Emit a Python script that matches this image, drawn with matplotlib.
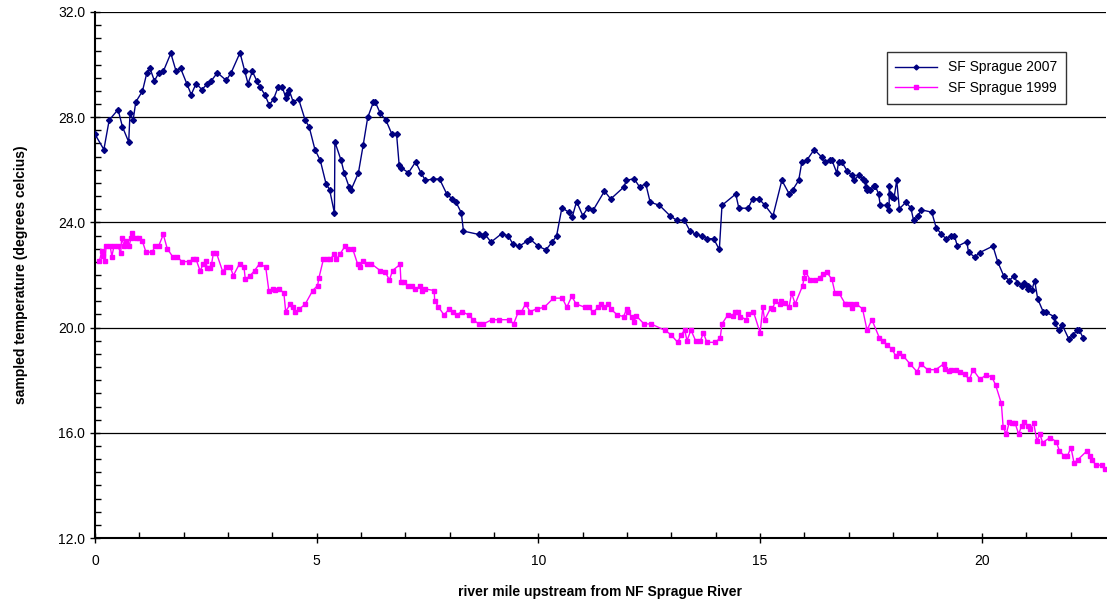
import matplotlib
matplotlib.use("Agg")
import matplotlib.pyplot as plt
from matplotlib.ticker import MultipleLocator, FormatStrFormatter

matplotlib.rcParams["font.family"] = ["Liberation Sans", "DejaVu Sans"]
matplotlib.rcParams["font.size"] = 10

# SF Sprague 2007 (river mile, temperature C)
mile_2007 = [0.00, 0.20, 0.32, 0.52, 0.62, 0.76, 0.79, 0.86, 0.92, 1.07, 1.17, 1.24, 1.34, 1.44, 1.54,
             1.71, 1.83, 1.93, 2.07, 2.17, 2.28, 2.41, 2.53, 2.62, 2.76, 2.96, 3.07, 3.27, 3.38, 3.45,
             3.55, 3.65, 3.72, 3.83, 3.93, 4.03, 4.13, 4.22, 4.31, 4.34, 4.38, 4.47, 4.59, 4.74, 4.83,
             4.96, 5.08, 5.21, 5.29, 5.40, 5.41, 5.55, 5.62, 5.73, 5.77, 5.94, 6.05, 6.15, 6.28, 6.32,
             6.43, 6.56, 6.69, 6.80, 6.86, 6.90, 7.07, 7.23, 7.35, 7.45, 7.63, 7.77, 7.93, 8.05, 8.14,
             8.26, 8.31, 8.66, 8.75, 8.80, 8.93, 9.17, 9.32, 9.42, 9.56, 9.74, 9.80, 10.00, 10.17, 10.31,
             10.41, 10.53, 10.69, 10.76, 10.86, 11.00, 11.11, 11.24, 11.49, 11.63, 11.93, 11.98, 12.16,
             12.28, 12.42, 12.52, 12.73, 12.97, 13.12, 13.29, 13.42, 13.56, 13.69, 13.80, 13.95, 14.08,
             14.14, 14.45, 14.52, 14.73, 14.83, 14.97, 15.11, 15.29, 15.49, 15.66, 15.74, 15.87, 15.94,
             16.05, 16.22, 16.39, 16.47, 16.58, 16.62, 16.73, 16.77, 16.84, 16.97, 17.07, 17.12, 17.22,
             17.31, 17.37, 17.38, 17.41, 17.47, 17.56, 17.60, 17.67, 17.71, 17.86, 17.91, 17.91, 17.93,
             17.97, 18.02, 18.08, 18.14, 18.29, 18.40, 18.46, 18.56, 18.63, 18.87, 18.97, 19.08, 19.19,
             19.31, 19.38, 19.45, 19.66, 19.70, 19.84, 19.95, 20.25, 20.36, 20.49, 20.62, 20.73, 20.80,
             20.90, 20.94, 21.03, 21.05, 21.13, 21.19, 21.26, 21.39, 21.45, 21.63, 21.66, 21.73, 21.81,
             21.96, 22.05, 22.14, 22.20, 22.29]
temp_2007 = [27.35, 26.77, 27.89, 28.29, 27.63, 27.06, 28.16, 27.89, 28.58, 28.99, 29.69, 29.86, 29.38, 29.69, 29.74,
             30.43, 29.74, 29.86, 29.28, 28.86, 29.28, 29.05, 29.26, 29.38, 29.69, 29.40, 29.69, 30.45, 29.74, 29.28,
             29.74, 29.38, 29.15, 28.86, 28.46, 28.70, 29.15, 29.15, 28.72, 28.90, 29.03, 28.58, 28.70, 27.89, 27.63,
             26.77, 26.36, 25.47, 25.25, 24.35, 27.06, 26.36, 25.88, 25.35, 25.22, 25.88, 26.96, 27.99, 28.58, 28.58,
             28.16, 27.89, 27.38, 27.38, 26.17, 26.08, 25.89, 26.30, 25.89, 25.60, 25.65, 25.65, 25.09, 24.90, 24.77,
             24.37, 23.67, 23.54, 23.50, 23.54, 23.25, 23.57, 23.49, 23.19, 23.09, 23.28, 23.38, 23.09, 22.96, 23.25,
             23.49, 24.56, 24.38, 24.19, 24.79, 24.26, 24.54, 24.48, 25.19, 24.89, 25.35, 25.60, 25.66,
             25.35, 25.47, 24.77, 24.65, 24.25, 24.08, 24.08, 23.67, 23.54, 23.48, 23.38, 23.38, 22.97,
             24.65, 25.08, 24.54, 24.54, 24.90, 24.90, 24.65, 24.25, 25.60, 25.07, 25.25, 25.60, 26.29,
             26.36, 26.77, 26.48, 26.29, 26.36, 26.36, 25.88, 26.30, 26.30, 25.94, 25.79, 25.60, 25.79,
             25.66, 25.56, 25.35, 25.22, 25.22, 25.37, 25.37, 25.09, 24.65, 24.65, 24.48, 25.37, 25.09,
             24.96, 24.93, 25.60, 24.52, 24.77, 24.54, 24.08, 24.24, 24.48, 24.39, 23.80, 23.57, 23.38,
             23.50, 23.50, 23.09, 23.27, 22.87, 22.68, 22.85, 23.10, 22.49, 21.98, 21.79, 21.98, 21.69,
             21.60, 21.69, 21.47, 21.57, 21.44, 21.79, 21.09, 20.58, 20.58, 20.42, 20.16, 19.89, 20.11,
             19.57, 19.70, 19.89, 19.89, 19.59]

# SF Sprague 1999
mile_1999 = [0.10, 0.15, 0.19, 0.23, 0.25, 0.34, 0.38, 0.43, 0.51, 0.58, 0.60, 0.66, 0.70, 0.77, 0.81,
             0.84, 0.92, 0.99, 1.07, 1.15, 1.29, 1.36, 1.44, 1.54, 1.63, 1.75, 1.85, 1.96, 2.12, 2.20,
             2.28, 2.37, 2.44, 2.50, 2.53, 2.59, 2.63, 2.67, 2.74, 2.88, 2.95, 3.05, 3.12, 3.26, 3.36,
             3.39, 3.50, 3.60, 3.71, 3.85, 3.92, 4.02, 4.07, 4.16, 4.26, 4.30, 4.40, 4.47, 4.50, 4.61,
             4.74, 4.91, 5.02, 5.05, 5.15, 5.23, 5.30, 5.40, 5.44, 5.53, 5.64, 5.71, 5.81, 5.92, 5.98,
             6.05, 6.13, 6.23, 6.43, 6.54, 6.64, 6.71, 6.88, 6.90, 6.97, 7.05, 7.16, 7.22, 7.33, 7.37,
             7.44, 7.65, 7.66, 7.74, 7.87, 7.99, 8.08, 8.16, 8.27, 8.43, 8.53, 8.65, 8.76, 8.95, 9.12,
             9.34, 9.44, 9.55, 9.62, 9.71, 9.81, 9.96, 10.13, 10.34, 10.54, 10.64, 10.75, 10.85, 11.05,
             11.13, 11.24, 11.34, 11.41, 11.48, 11.58, 11.63, 11.78, 11.92, 11.99, 12.03, 12.11, 12.16,
             12.20, 12.38, 12.54, 12.86, 12.99, 13.14, 13.22, 13.30, 13.35, 13.44, 13.55, 13.65, 13.72,
             13.80, 13.99, 14.10, 14.14, 14.27, 14.38, 14.44, 14.51, 14.55, 14.69, 14.72, 14.85, 15.00,
             15.06, 15.10, 15.24, 15.28, 15.34, 15.44, 15.48, 15.56, 15.65, 15.71, 15.79, 15.96, 15.99,
             16.02, 16.13, 16.24, 16.34, 16.41, 16.50, 16.62, 16.69, 16.78, 16.92, 16.97, 17.05, 17.08,
             17.17, 17.31, 17.41, 17.52, 17.69, 17.78, 17.86, 17.97, 18.06, 18.13, 18.23, 18.38, 18.54,
             18.62, 18.78, 18.96, 19.14, 19.17, 19.25, 19.31, 19.41, 19.51, 19.61, 19.72, 19.80, 19.96,
             20.10, 20.23, 20.31, 20.44, 20.48, 20.55, 20.62, 20.68, 20.75, 20.83, 20.90, 20.96, 21.03,
             21.09, 21.17, 21.24, 21.31, 21.37, 21.54, 21.68, 21.75, 21.86, 21.93, 22.01, 22.08, 22.16,
             22.37, 22.45, 22.48, 22.58, 22.71, 22.78]
temp_1999 = [22.53, 22.90, 22.74, 22.55, 23.12, 23.12, 22.70, 23.12, 23.12, 22.83, 23.40, 23.10, 23.29, 23.10, 23.40,
             23.59, 23.42, 23.40, 23.28, 22.87, 22.87, 23.12, 23.12, 23.54, 23.00, 22.70, 22.70, 22.51, 22.51, 22.59,
             22.59, 22.16, 22.41, 22.53, 22.27, 22.27, 22.43, 22.83, 22.83, 22.13, 22.30, 22.30, 21.98, 22.43, 22.30,
             21.83, 21.98, 22.17, 22.43, 22.30, 21.41, 21.47, 21.44, 21.47, 21.31, 20.61, 20.89, 20.77, 20.58, 20.71,
             20.89, 21.41, 21.60, 21.89, 22.59, 22.59, 22.59, 22.81, 22.59, 22.81, 23.10, 23.00, 23.00, 22.43, 22.30,
             22.53, 22.43, 22.43, 22.17, 22.13, 21.81, 22.17, 22.40, 21.73, 21.73, 21.60, 21.60, 21.47, 21.57, 21.41,
             21.47, 21.41, 21.03, 20.80, 20.48, 20.71, 20.58, 20.48, 20.61, 20.48, 20.30, 20.14, 20.14, 20.30, 20.30,
             20.30, 20.14, 20.61, 20.61, 20.90, 20.61, 20.71, 20.77, 21.12, 21.12, 20.77, 21.19, 20.90, 20.77,
             20.77, 20.58, 20.77, 20.90, 20.77, 20.90, 20.71, 20.48, 20.42, 20.71, 20.58, 20.39, 20.20,
             20.46, 20.14, 20.14, 19.89, 19.73, 19.44, 19.73, 19.91, 19.50, 19.91, 19.48, 19.48, 19.80,
             19.44, 19.44, 19.61, 20.14, 20.48, 20.43, 20.58, 20.58, 20.42, 20.30, 20.50, 20.60, 19.80,
             20.77, 20.29, 20.75, 20.71, 21.00, 20.90, 21.00, 20.93, 20.77, 21.31, 20.90, 21.60, 21.89,
             22.12, 21.82, 21.82, 21.89, 22.02, 22.12, 21.83, 21.31, 21.31, 20.90, 20.90, 20.90, 20.75,
             20.90, 20.71, 19.91, 20.30, 19.61, 19.50, 19.34, 19.19, 18.92, 19.02, 18.92, 18.62, 18.32,
             18.62, 18.40, 18.40, 18.62, 18.43, 18.34, 18.40, 18.40, 18.33, 18.22, 18.03, 18.40, 18.03,
             18.21, 18.11, 17.82, 17.12, 16.23, 15.95, 16.41, 16.37, 16.37, 15.95, 16.27, 16.41, 16.27,
             16.14, 16.37, 15.70, 15.95, 15.63, 15.82, 15.66, 15.31, 15.12, 15.12, 15.44, 14.85, 14.97,
             15.31, 15.12, 14.96, 14.77, 14.77, 14.62]

fig = plt.figure(figsize=(11.07, 6.08), dpi=100)
ax = fig.add_axes([95 / 1107, 1 - 538 / 608, 1011 / 1107, 526 / 608])

ax.plot(mile_2007, temp_2007, color="#000080", lw=1.0, marker="D", markersize=3.0,
        label="SF Sprague 2007", zorder=3)
ax.plot(mile_1999, temp_1999, color="#FF00FF", lw=1.0, marker="s", markersize=2.2,
        label="SF Sprague 1999", zorder=3)

ax.set_xlim(0, 22.8)
ax.set_ylim(12, 32)
ax.xaxis.set_major_locator(MultipleLocator(5))
ax.xaxis.set_minor_locator(MultipleLocator(1))
ax.yaxis.set_major_locator(MultipleLocator(4))
ax.yaxis.set_minor_locator(MultipleLocator(0.5))
ax.yaxis.set_major_formatter(FormatStrFormatter("%.1f"))
ax.tick_params(axis="both", which="major", direction="inout", length=7, width=1, labelsize=10)
ax.tick_params(axis="both", which="minor", direction="in", length=4, width=1)
ax.tick_params(axis="x", which="major", pad=8)

ax.grid(axis="y", which="major", color="black", lw=0.9, zorder=1)
ax.spines["right"].set_visible(False)
ax.spines["top"].set_visible(False)
ax.spines["left"].set_linewidth(1.5)
ax.spines["bottom"].set_linewidth(1.5)

ax.set_xlabel("river mile upstream from NF Sprague River", fontweight="bold", fontsize=10, labelpad=12)
ax.set_ylabel("sampled temperature (degrees celcius)", fontweight="bold", fontsize=10, labelpad=22)

leg = ax.legend(loc="upper right", bbox_to_anchor=(0.967, 0.937), fontsize=10, frameon=True,
                fancybox=False, edgecolor="black", handlelength=3.0, borderpad=0.6)
leg.get_frame().set_linewidth(1.0)
for line in leg.get_lines():
    line.set_markersize(2.5)

plt.savefig("out.png", dpi=100)
